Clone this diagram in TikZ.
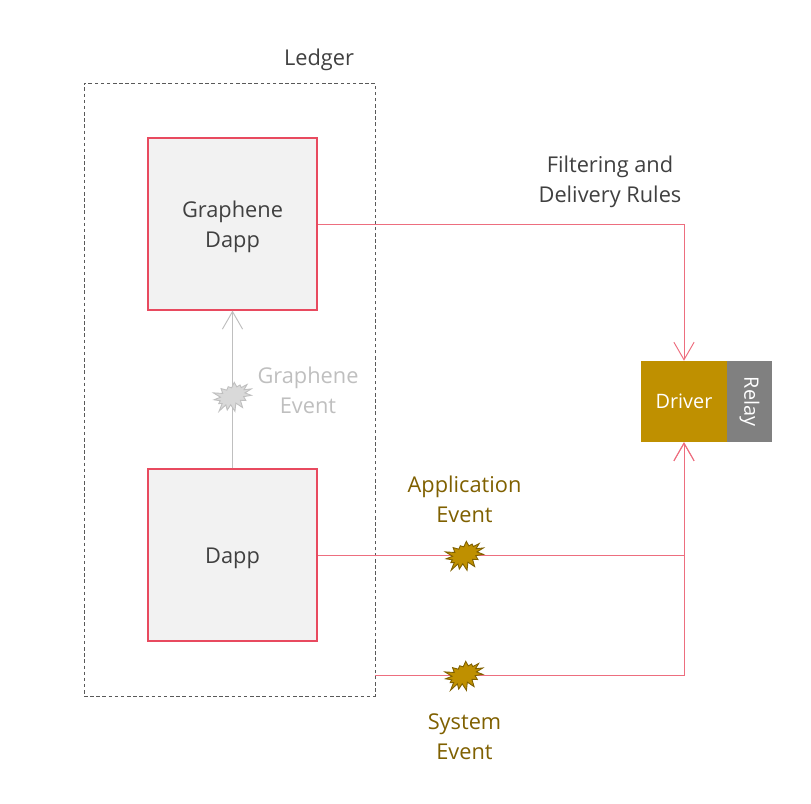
\documentclass[tikz,border=0pt]{standalone}
\usepackage{fontspec}
\setmainfont{Open Sans}
\usetikzlibrary{arrows.meta,shapes.symbols}
\definecolor{boxred}{HTML}{E84A5F}
\definecolor{gold}{HTML}{BF9000}
\definecolor{darkgold}{HTML}{7F6000}
\definecolor{textgray}{HTML}{404040}
\tikzset{
  dappbox/.style={draw=boxred, line width=1.1pt, fill=black!5, text=textgray, minimum width=96.6pt, minimum height=97.5pt, align=center, inner sep=0pt, font=\fontsize{12.4}{17}\selectfont},
  redline/.style={draw=boxred!80, line width=.55pt, -{Straight Barb[length=10pt,width=11.5pt]}},
  eventstar/.style={shape=starburst, starburst points=15, starburst point height=5pt, minimum width=25pt, minimum height=19pt, inner sep=0pt, random starburst=23, rotate=25, draw=darkgold, line width=.5pt, fill=gold},
  label/.style={align=center, text=textgray, font=\fontsize{12.4}{17}\selectfont},
  sidebox/.style={text=white, minimum height=46pt, inner sep=0pt, font=\fontsize{11.3}{13}\selectfont},
}
\begin{document}
\begin{tikzpicture}[x=.02cm,y=-.02cm]
\useasboundingbox (0,0) rectangle (811,804);
\node[draw=black!65, dash pattern=on 2pt off 1.5pt, line width=.4pt, minimum width=165.6pt, minimum height=348.8pt, inner sep=0pt] (ledger) at (229.5,389.5){};
\node[dappbox] (graphene) at (232.5,224){};
\node[dappbox] (dapp) at (232.5,555){};
\node[text=textgray, align=center, font=\fontsize{12.4}{17}\selectfont] (graphenetext) at (232.5,227){Graphene\\Dapp};
\node[text=textgray, font=\fontsize{12.4}{17}\selectfont] (dapptext) at (232.5,558){Dapp};
\node[sidebox, fill=gold, minimum width=48.8pt] (driver) at (684,401.5){};
\node[sidebox] (drivertext) at (684,401){Driver};
\node[sidebox, fill=black!50, minimum width=25.5pt] (relay) at (749.5,401.5){\rotatebox{-90}{Relay}};
\coordinate (sysstart) at (375,675);
\draw[redline] (graphene.east) -| (driver.north);
\draw[redline] (dapp.east) -| node[pos=.2, eventstar] (appstar){} (driver.south);
\draw[redline] (sysstart) -| node[pos=.144, eventstar] (sysstar){} (driver.south);
\draw[draw=black!25, line width=.55pt, -{Straight Barb[length=10pt,width=11.5pt]}] (dapp.north) -- node[pos=.459, eventstar, draw=black!25, fill=black!15] (grapstar){} (graphene.south);
\node[label] (ledgerlabel) at (319,60){Ledger};
\node[label] (ruleslabel) at (610,182){Filtering and\\Delivery Rules};
\node[label, text=black!25] (graplabel) at (308,390){Graphene\\Event};
\node[label, text=darkgold] (applabel) at (464.5,499.5){Application\\Event};
\node[label, text=darkgold] (syslabel) at (464.5,736.5){System\\Event};
\end{tikzpicture}
\end{document}
